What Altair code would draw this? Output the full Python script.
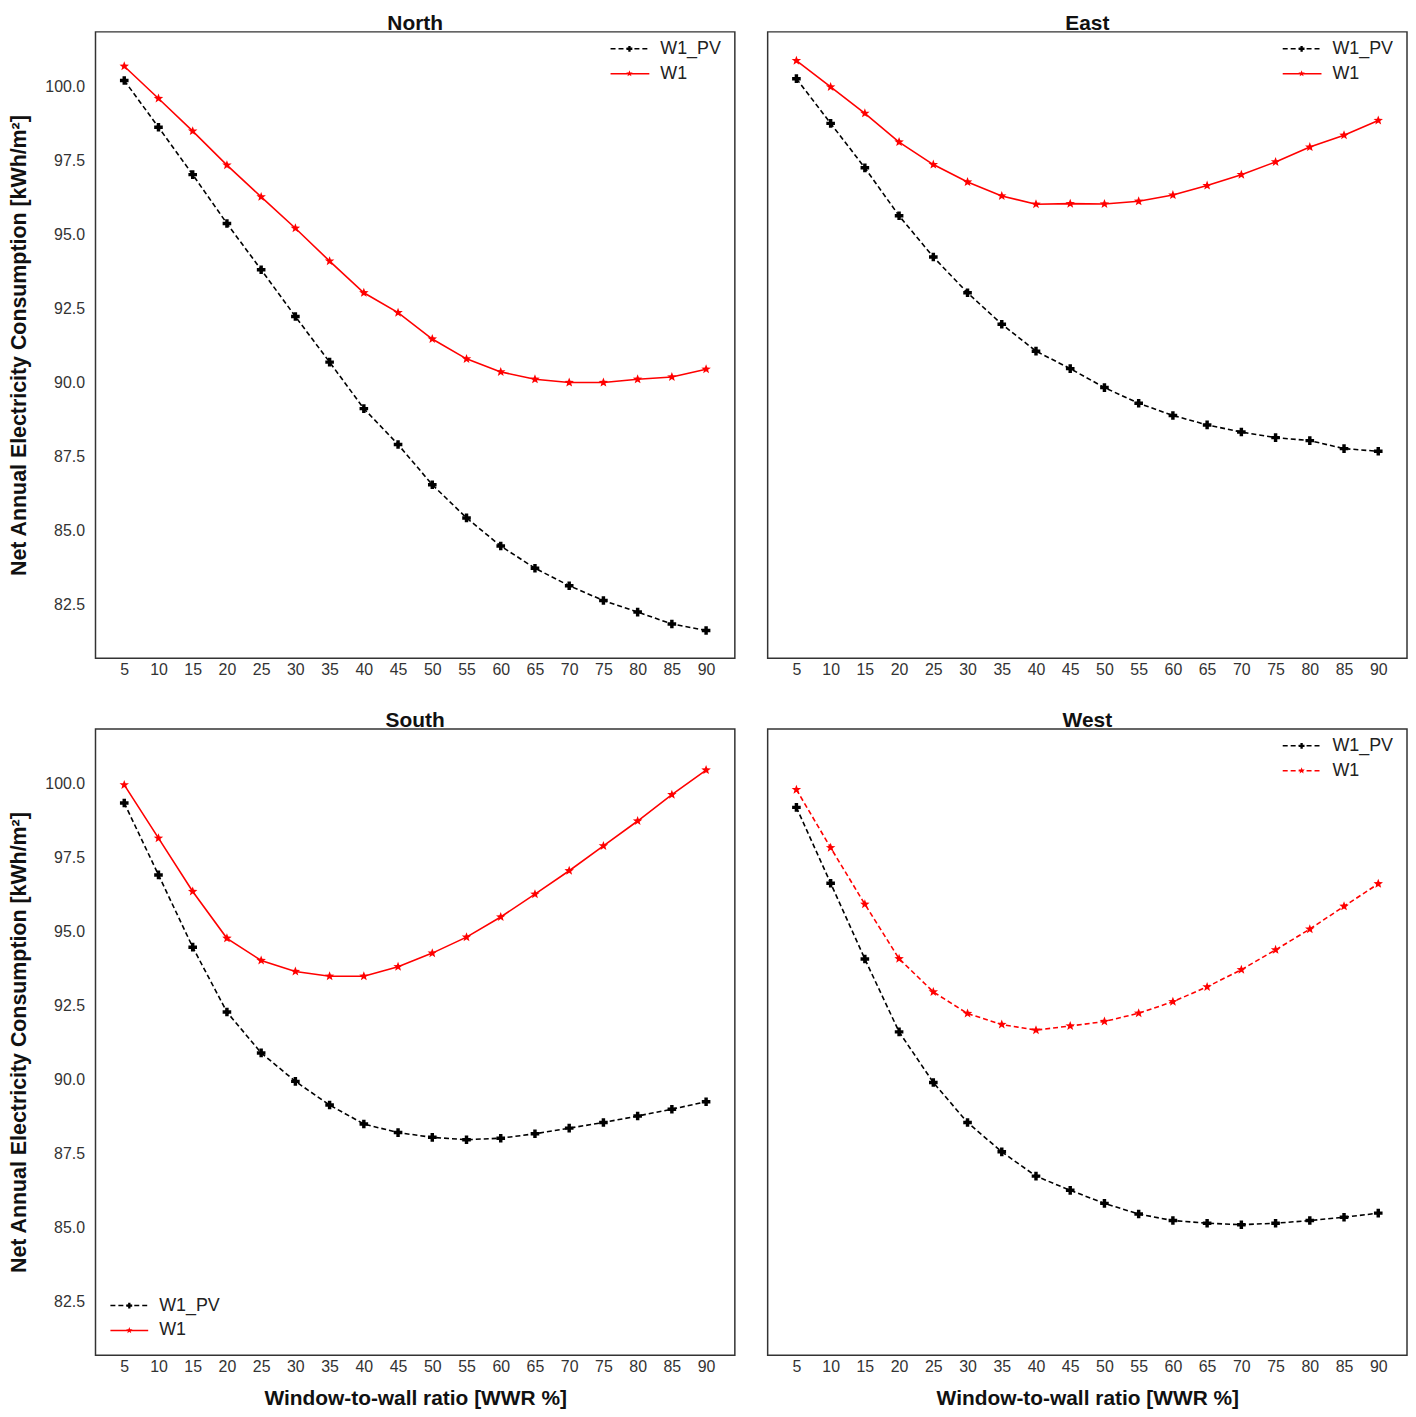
import math
import pandas as pd
import altair as alt

# ---------------- data ----------------
WWR = [5, 10, 15, 20, 25, 30, 35, 40, 45, 50, 55, 60, 65, 70, 75, 80, 85, 90]

NORTH_W1_PV = [100.21, 98.63, 97.03, 95.38, 93.82, 92.24, 90.70, 89.13, 87.92, 86.56,
               85.44, 84.49, 83.74, 83.15, 82.65, 82.26, 81.86, 81.64]
NORTH_W1 = [100.69, 99.60, 98.50, 97.35, 96.28, 95.22, 94.11, 93.04, 92.37, 91.48,
            90.81, 90.37, 90.12, 90.01, 90.01, 90.12, 90.20, 90.46]

EAST_W1_PV = [100.27, 98.76, 97.26, 95.64, 94.25, 93.04, 91.98, 91.07, 90.48, 89.84,
              89.31, 88.90, 88.58, 88.34, 88.15, 88.05, 87.78, 87.69]
EAST_W1 = [100.88, 99.99, 99.10, 98.13, 97.37, 96.78, 96.31, 96.03, 96.05, 96.04,
           96.13, 96.34, 96.66, 97.03, 97.46, 97.96, 98.36, 98.86]

SOUTH_W1_PV = [99.35, 96.92, 94.48, 92.29, 90.91, 89.95, 89.15, 88.51, 88.22, 88.06,
               87.98, 88.03, 88.18, 88.37, 88.56, 88.78, 89.01, 89.26]
SOUTH_W1 = [99.96, 98.16, 96.36, 94.78, 94.03, 93.66, 93.50, 93.50, 93.82, 94.28,
            94.82, 95.50, 96.27, 97.06, 97.90, 98.74, 99.63, 100.46]

WEST_W1_PV = [99.20, 96.64, 94.08, 91.62, 89.91, 88.56, 87.57, 86.75, 86.27, 85.83,
              85.47, 85.25, 85.16, 85.11, 85.16, 85.25, 85.36, 85.50]
WEST_W1 = [99.80, 97.84, 95.93, 94.09, 92.97, 92.24, 91.87, 91.68, 91.82, 91.97,
           92.25, 92.64, 93.14, 93.72, 94.39, 95.09, 95.86, 96.62]

Y_TICKS = [82.5, 85.0, 87.5, 90.0, 92.5, 95.0, 97.5, 100.0]
SERIES = ["W1_PV", "W1"]

Y_TITLE = "Net Annual Electricity Consumption [kWh/m\u00b2]"
X_TITLE = "Window-to-wall ratio [WWR %]"

# ---------------- style ----------------
FONT = "Liberation Sans"
W, H = 643, 630
RED = "#ff0000"
DASH = [5, 3]
TITLE_FS = 21
LABEL_FS = 16


def star_path(outer=1.0, inner=0.42):
    pts = []
    for k in range(10):
        r = outer if k % 2 == 0 else inner
        a = math.radians(-90 + 36 * k)
        pts.append(f"{r * math.cos(a):.3f},{r * math.sin(a):.3f}")
    return "M" + " L".join(pts) + " Z"


STAR = star_path()


def legend_layers(w1_dashed, where):
    if where == "tr":
        x0, x1, xm, xt = 518, 557, 537, 568
        rows = [17, 42]
    else:
        x0, x1, xm, xt = 15, 53, 34, 64
        rows = [H - 50, H - 25]
    layers = []
    for name, yy in zip(SERIES, rows):
        one = pd.DataFrame({"label": [name]})
        is_pv = name == "W1_PV"
        col = "black" if is_pv else RED
        rule_kw = dict(color=col, strokeWidth=1.5)
        if is_pv or w1_dashed:
            rule_kw["strokeDash"] = DASH
        layers.append(alt.Chart(one).mark_rule(**rule_kw).encode(
            x=alt.value(x0), x2=alt.value(x1), y=alt.value(yy)))
        layers.append(alt.Chart(one).mark_point(
            shape="cross" if is_pv else STAR, filled=True, color=col, opacity=1,
            size=34 if is_pv else 46).encode(x=alt.value(xm), y=alt.value(yy)))
        layers.append(alt.Chart(one).mark_text(
            align="left", baseline="middle", fontSize=18, font=FONT, color="#222").encode(
            x=alt.value(xt), y=alt.value(yy), text="label:N"))
    return layers


def panel(title, pv, w1, w1_dashed, legend_where, show_y, show_xtitle):
    df_pv = pd.DataFrame({"wwr": WWR, "val": pv})
    df_w1 = pd.DataFrame({"wwr": WWR, "val": w1})

    xenc = alt.X(
        "wwr:Q",
        title=X_TITLE if show_xtitle else None,
        scale=alt.Scale(domain=[0.8, 94.2], nice=False, zero=False),
        axis=alt.Axis(values=WWR, grid=False, ticks=False, domain=False,
                      labelFontSize=LABEL_FS, labelPadding=3, labelColor="#333",
                      labelFlush=False, labelOverlap=False,
                      titleFontSize=TITLE_FS, titleFontWeight="bold", titlePadding=13,
                      titleColor="#111"),
    )
    yscale = alt.Scale(domain=[80.7, 101.85], nice=False, zero=False)
    if show_y:
        yenc = alt.Y("val:Q", title=Y_TITLE, scale=yscale,
                     axis=alt.Axis(values=Y_TICKS, format=".1f", grid=False, ticks=False,
                                   domain=False, labelFontSize=LABEL_FS, labelPadding=11,
                                   labelColor="#333", labelOverlap=False,
                                   titleFontSize=TITLE_FS + 0.5, titleFontWeight="bold",
                                   titlePadding=14, titleColor="#111"))
    else:
        yenc = alt.Y("val:Q", scale=yscale, axis=None)

    pv_line = alt.Chart(df_pv).mark_line(color="black", strokeWidth=1.6,
                                         strokeDash=DASH).encode(x=xenc, y=yenc)
    pv_pts = alt.Chart(df_pv).mark_point(shape="cross", filled=True, color="black",
                                         opacity=1, size=75).encode(x=xenc, y=yenc)
    w1_kw = dict(color=RED, strokeWidth=1.6)
    if w1_dashed:
        w1_kw["strokeDash"] = DASH
    w1_line = alt.Chart(df_w1).mark_line(**w1_kw).encode(x=xenc, y=yenc)
    w1_pts = alt.Chart(df_w1).mark_point(shape=STAR, filled=True, color=RED,
                                         opacity=1, size=100).encode(x=xenc, y=yenc)

    layers = [pv_line, w1_line, pv_pts, w1_pts] + legend_layers(w1_dashed, legend_where)
    return alt.layer(*layers).properties(
        width=W, height=H,
        title=alt.TitleParams(title, fontSize=TITLE_FS, fontWeight="bold", font=FONT,
                              color="#111", offset=-2, anchor="middle", frame="group"),
    )


north = panel("North", NORTH_W1_PV, NORTH_W1, False, "tr", True, False)
east = panel("East", EAST_W1_PV, EAST_W1, False, "tr", False, False)
south = panel("South", SOUTH_W1_PV, SOUTH_W1, False, "bl", True, True)
west = panel("West", WEST_W1_PV, WEST_W1, True, "tr", False, True)

chart = alt.vconcat(
    alt.hconcat(north, east, spacing=31),
    alt.hconcat(south, west, spacing=31),
    spacing=31,
).properties(
    padding={"left": 0, "top": 0, "right": 0, "bottom": 0}
).configure_view(
    stroke="#333", strokeWidth=1.5
).configure_axis(
    labelFont=FONT, titleFont=FONT
).configure_title(
    font=FONT
)

chart.save("out.html", embed_options={"renderer": "svg", "actions": False})
